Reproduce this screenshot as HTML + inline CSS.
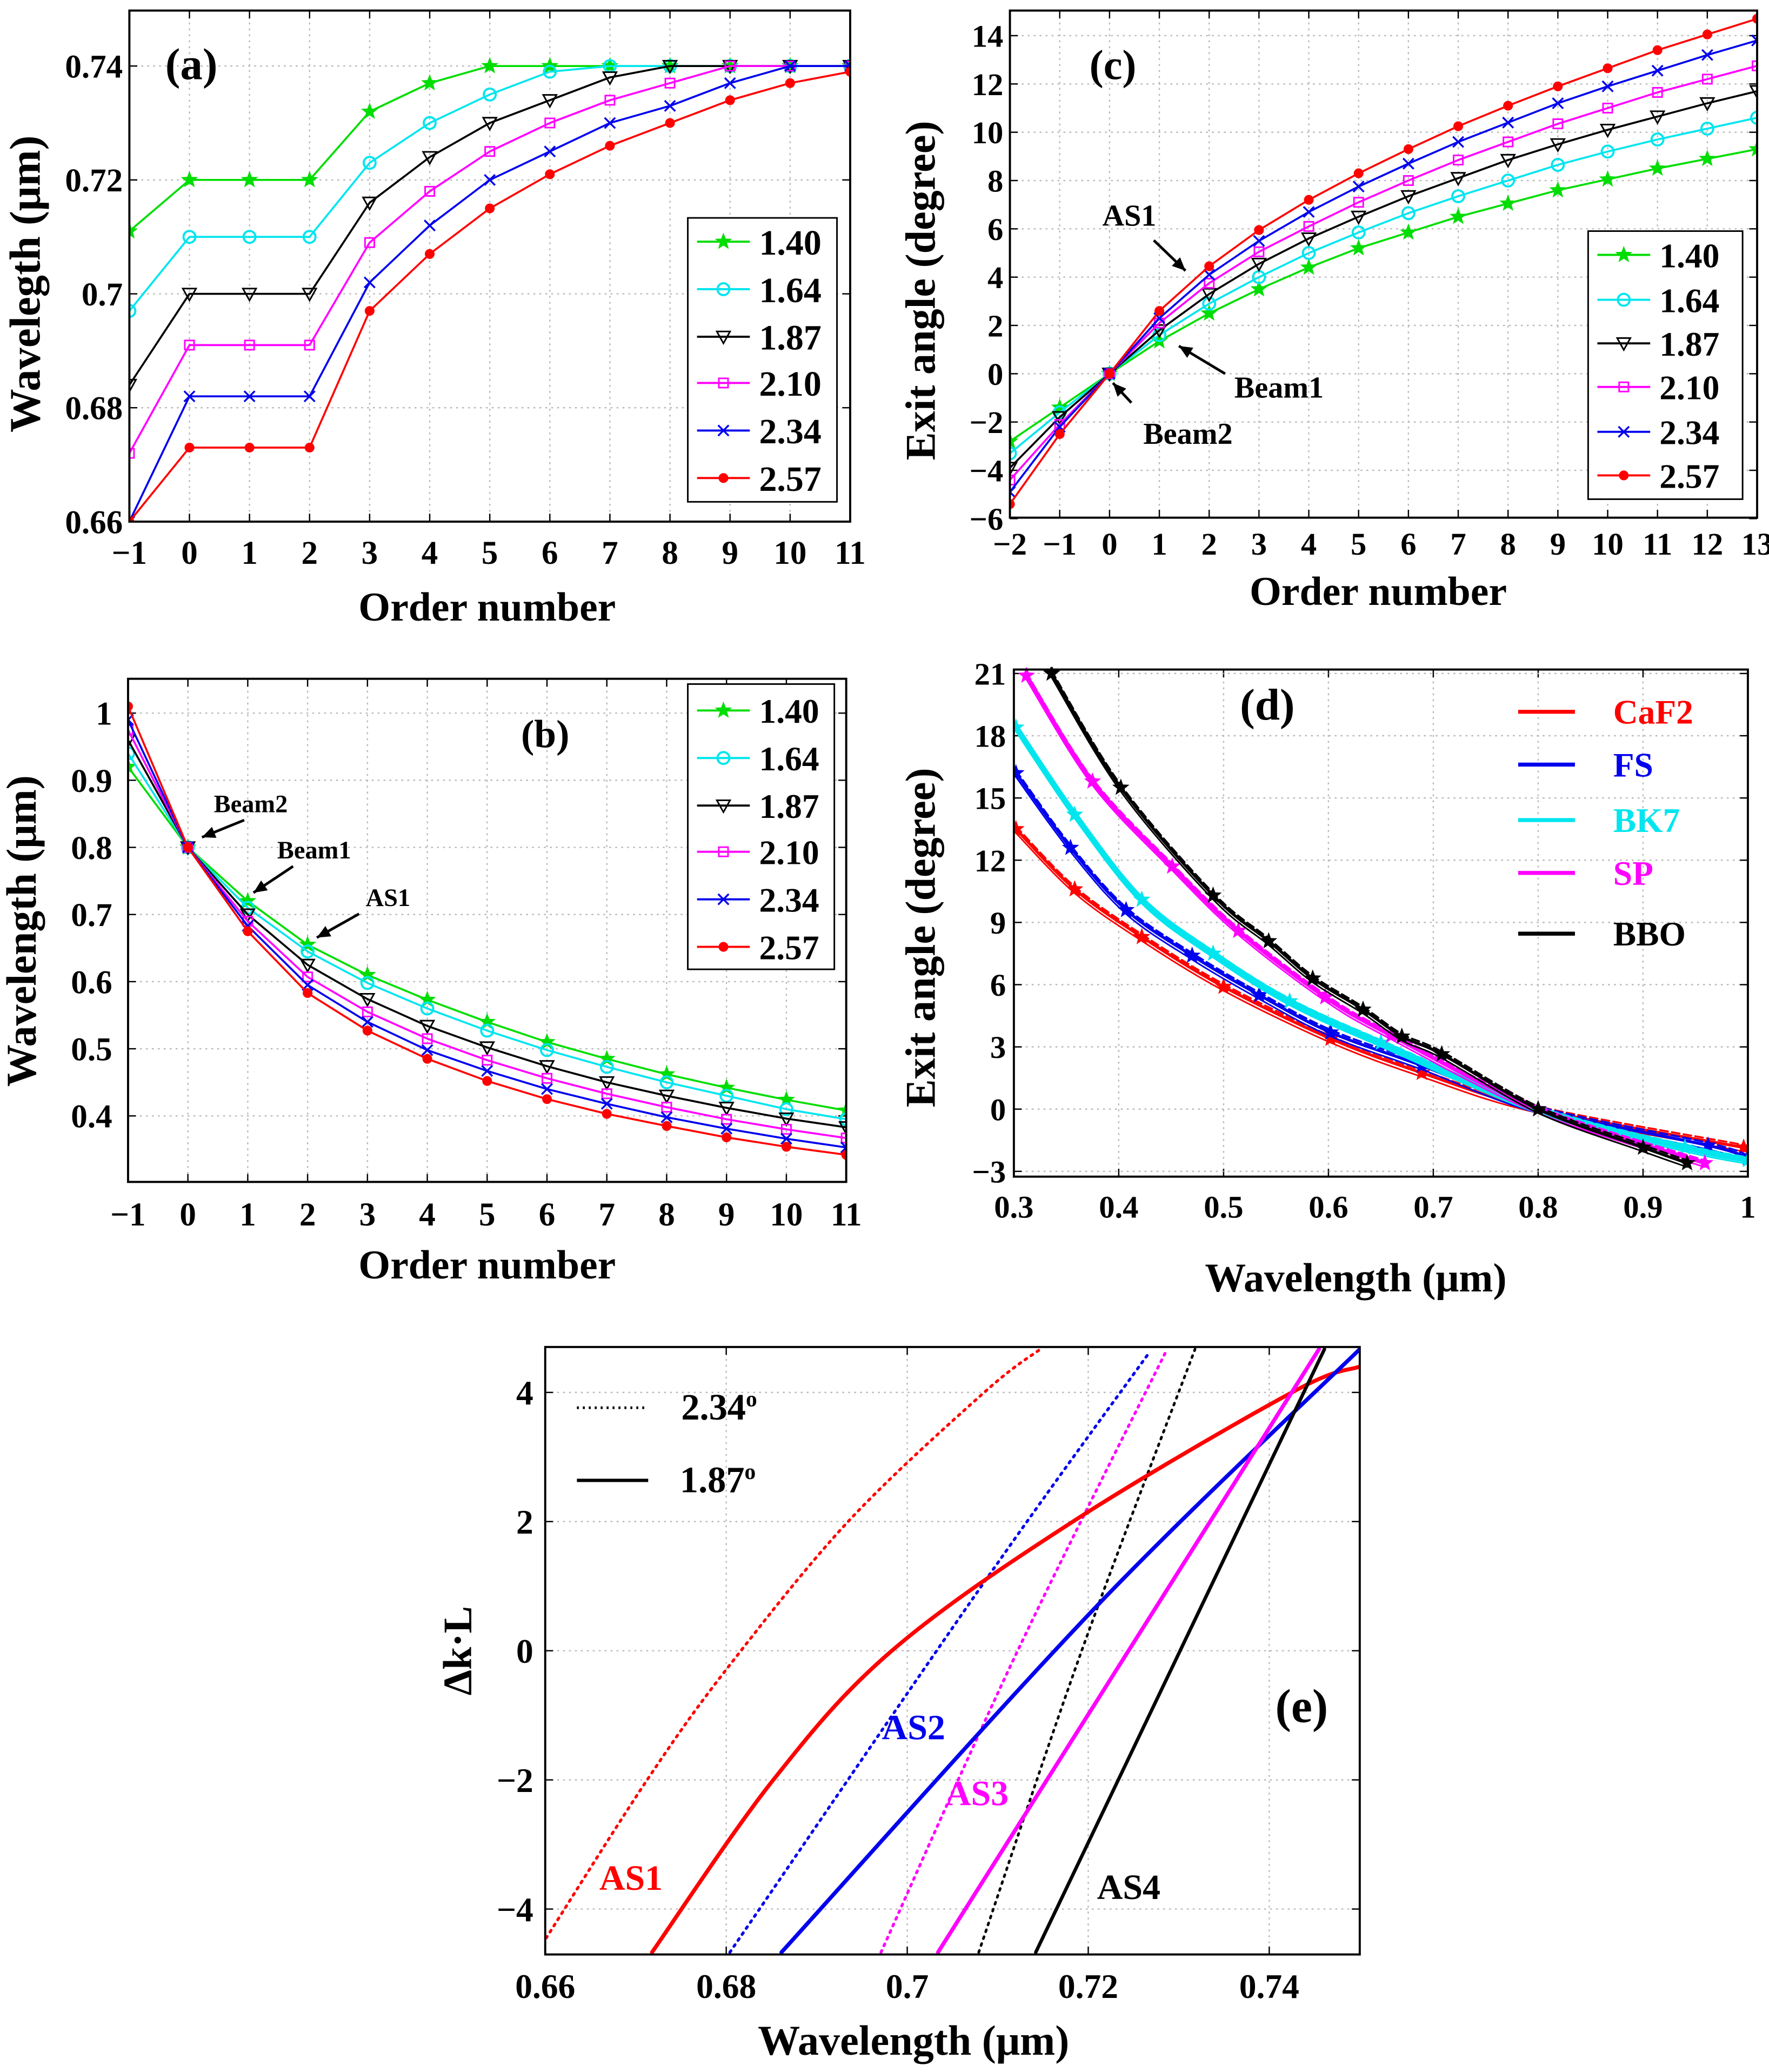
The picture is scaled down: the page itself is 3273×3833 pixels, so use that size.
<!DOCTYPE html>
<html><head><meta charset="utf-8"><style>
html,body{margin:0;padding:0;background:#fff}
svg{display:block}
text{font-family:"Liberation Serif",serif;font-weight:bold;fill:#000}
</style></head><body>
<svg id="fig" xmlns="http://www.w3.org/2000/svg" width="3273" height="3833" viewBox="0 0 1340 1569" preserveAspectRatio="none">
<rect x="0" y="0" width="1340" height="1569" fill="#fff"/>
</svg>
<script>
// ---------- Data ----------
const seriesLabels = ["1.40","1.64","1.87","2.10","2.34","2.57"];
const orderA = [-1,0,1,2,3,4,5,6,7,8,9,10,11];
const a140 = [0.711,0.72,0.72,0.72,0.732,0.737,0.74,0.74,0.74,0.74,0.74,0.74,0.74];
const a164 = [0.697,0.71,0.71,0.71,0.723,0.730,0.735,0.739,0.74,0.74,0.74,0.74,0.74];
const a187 = [0.684,0.70,0.70,0.70,0.716,0.724,0.730,0.734,0.738,0.74,0.74,0.74,0.74];
const a210 = [0.672,0.691,0.691,0.691,0.709,0.718,0.725,0.730,0.734,0.737,0.74,0.74,0.74];
const a234 = [0.66,0.682,0.682,0.682,0.702,0.712,0.720,0.725,0.730,0.733,0.737,0.74,0.74];
const a257 = [0.66,0.673,0.673,0.673,0.697,0.707,0.715,0.721,0.726,0.730,0.734,0.737,0.739];
const aTicksX = [-1,0,1,2,3,4,5,6,7,8,9,10,11];
const aTicksY = [0.66,0.68,0.70,0.72,0.74];
const aTickLabelsY = ["0.66","0.68","0.7","0.72","0.74"];

const orderB = [-1,0,1,2,3,4,5,6,7,8,9,10,11];
const b140 = [0.92,0.80,0.72,0.655,0.61,0.573,0.54,0.51,0.485,0.462,0.442,0.424,0.408];
const b164 = [0.94,0.80,0.71,0.645,0.598,0.56,0.527,0.498,0.473,0.45,0.43,0.41,0.395];
const b187 = [0.96,0.80,0.70,0.625,0.574,0.534,0.502,0.474,0.45,0.43,0.412,0.396,0.383];
const b210 = [0.975,0.80,0.69,0.607,0.555,0.515,0.483,0.456,0.433,0.413,0.395,0.38,0.367];
const b234 = [0.99,0.80,0.683,0.595,0.54,0.498,0.467,0.44,0.418,0.398,0.381,0.366,0.353];
const b257 = [1.01,0.80,0.675,0.583,0.527,0.485,0.452,0.425,0.403,0.385,0.368,0.354,0.342];
const bTicksY = [0.4,0.5,0.6,0.7,0.8,0.9,1.0];
const bTickLabelsY = ["0.4","0.5","0.6","0.7","0.8","0.9","1"];

const orderC = [-2,-1,0,1,2,3,4,5,6,7,8,9,10,11,12,13];
const c140 = [-2.8,-1.4,0,1.35,2.5,3.5,4.4,5.2,5.85,6.5,7.05,7.6,8.05,8.5,8.9,9.3];
const c164 = [-3.3,-1.6,0,1.6,2.9,4.0,5.0,5.85,6.65,7.35,8.0,8.65,9.2,9.7,10.15,10.6];
const c187 = [-3.9,-1.8,0,1.8,3.3,4.55,5.6,6.5,7.35,8.1,8.85,9.5,10.1,10.65,11.2,11.7];
const c210 = [-4.4,-2.1,0,2.1,3.75,5.05,6.1,7.1,8.0,8.85,9.6,10.35,11.0,11.65,12.2,12.75];
const c234 = [-4.9,-2.2,0,2.3,4.1,5.5,6.7,7.75,8.7,9.6,10.4,11.2,11.9,12.55,13.2,13.8];
const c257 = [-5.4,-2.5,0,2.6,4.45,5.95,7.2,8.3,9.3,10.25,11.1,11.9,12.65,13.4,14.05,14.7];
const cTicksX = [-2,-1,0,1,2,3,4,5,6,7,8,9,10,11,12,13];
const cTicksY = [-6,-4,-2,0,2,4,6,8,10,12,14];

const materials = ["CaF2","FS","BK7","SP","BBO"];
const wlCaF2 = [0.302,0.358,0.422,0.5,0.602,0.689,0.8,0.996];
const angCaF2 = [13.5,10.6,8.3,5.9,3.4,1.75,0,-1.85];
const wlFS = [0.302,0.354,0.407,0.47,0.534,0.602,0.689,0.8,0.962,1.0];
const angFS = [16.2,12.6,9.6,7.4,5.5,3.7,2.1,0,-1.75,-2.35];
const wlBK7 = [0.302,0.358,0.422,0.49,0.563,0.65,0.8,0.94,1.0];
const angBK7 = [18.4,14.2,10.1,7.5,5.2,3.2,0,-1.85,-2.45];
const wlSP = [0.312,0.375,0.451,0.514,0.597,0.66,0.8,0.959];
const angSP = [20.9,15.8,11.7,8.6,5.4,3.55,0,-2.6];
const wlBBO = [0.336,0.402,0.49,0.543,0.585,0.633,0.67,0.708,0.8,0.9,0.942];
const angBBO = [21,15.5,10.3,8.1,6.3,4.8,3.5,2.65,0,-1.85,-2.6];
const dTicksX = [0.3,0.4,0.5,0.6,0.7,0.8,0.9,1.0];
const dTickLabelsX = ["0.3","0.4","0.5","0.6","0.7","0.8","0.9","1"];
const dTicksY = [-3,0,3,6,9,12,15,18,21];

const eRedSolidX = [0.6718,0.6852,0.6983,0.7183,0.7425,0.75];
const eRedSolidY = [-4.67,-2.0,0.0,2.0,4.0,4.40];
const eRedDotX = [0.6601,0.6715,0.6804,0.6936,0.7085,0.7147];
const eRedDotY = [-4.45,-1.95,-0.22,2.02,4.0,4.67];
const eBlueSolidX = [0.6861,0.721,0.75];
const eBlueSolidY = [-4.67,0.70,4.67];
const eBlueDotX = [0.6804,0.7085,0.7267];
const eBlueDotY = [-4.67,1.06,4.61];
const eMagSolidX = [0.7034,0.7455];
const eMagSolidY = [-4.67,4.67];
const eMagDotX = [0.6971,0.7121,0.7285];
const eMagDotY = [-4.67,-0.03,4.61];
const eBlkSolidX = [0.7142,0.7461];
const eBlkSolidY = [-4.67,4.67];
const eBlkDotX = [0.7079,0.7192,0.7318];
const eBlkDotY = [-4.67,-0.03,4.67];
const eTicksX = [0.66,0.68,0.70,0.72,0.74];
const eTickLabelsX = ["0.66","0.68","0.7","0.72","0.74"];
const eTicksY = [-4,-2,0,2,4];

// ---------- Helpers ----------
const NS = "http://www.w3.org/2000/svg";
const svg = document.getElementById("fig");
function mk(tag, attrs, parent){
  const e = document.createElementNS(NS, tag);
  for (const k in attrs) e.setAttribute(k, attrs[k]);
  (parent||svg).appendChild(e);
  return e;
}
function txt(s, x, y, size, anchor, fill, parent){
  const t = mk("text", {x:x, y:y, "font-size":size, "text-anchor":anchor||"middle"}, parent);
  if (fill) t.setAttribute("style","fill:"+fill);
  t.textContent = s;
  return t;
}
function lin(d0,d1,p0,p1){ return v => p0 + (v-d0)*(p1-p0)/(d1-d0); }
function minus(v){ return String(v).replace("-","\u2212"); }

function axesBox(g, x0,y0,x1,y1, sx, sy, ticksX, ticksY, labX, labY, fs, xoff, yoff){
  ticksX.forEach(v=>{ const X=sx(v);
    if (X>x0+1 && X<x1-1){ const l=mk("line",{x1:X,y1:y0,x2:X,y2:y1,stroke:"#bbb","stroke-width":1,"stroke-dasharray":"1.5 3"},g);
      
       }
    mk("line",{x1:X,y1:y1,x2:X,y2:y1-6,stroke:"#000","stroke-width":1},g);
    mk("line",{x1:X,y1:y0,x2:X,y2:y0+6,stroke:"#000","stroke-width":1},g);
  });
  ticksY.forEach(v=>{ const Y=sy(v);
    if (Y>y0+1 && Y<y1-1){ const l=mk("line",{x1:x0,y1:Y,x2:x1,y2:Y,stroke:"#bbb","stroke-width":1,"stroke-dasharray":"1.5 3"},g);
      
       }
    mk("line",{x1:x0,y1:Y,x2:x0+6,y2:Y,stroke:"#000","stroke-width":1},g);
    mk("line",{x1:x1,y1:Y,x2:x1-6,y2:Y,stroke:"#000","stroke-width":1},g);
  });
  const xg = mk("g",{},g);
  
  
  ticksX.forEach((v,i)=>{ txt(labX[i], sx(v), y1+xoff, fs, "middle", null, xg); });
  const yg = mk("g",{},g);
  
  
  ticksY.forEach((v,i)=>{ txt(labY[i], x0-yoff, sy(v)+fs*0.35, fs, "end", null, yg); });
}
function frame(g,x0,y0,x1,y1){
  const r = mk("rect",{x:x0,y:y0,width:x1-x0,height:y1-y0,fill:"none",stroke:"#000","stroke-width":1.6},g);
  
  
}
function starPath(cx,cy,r){
  let d=""; for(let i=0;i<10;i++){ const a=-Math.PI/2+i*Math.PI/5; const rr=i%2?r*0.42:r;
    d+=(i?"L":"M")+(cx+rr*Math.cos(a)).toFixed(2)+","+(cy+rr*Math.sin(a)).toFixed(2);} return d+"Z";
}
function marker(g, kind, X, Y, col){
  let m;
  if (kind==="star") m=mk("path",{d:starPath(X,Y,6),fill:col,stroke:col,"stroke-width":0.6},g);
  else if (kind==="circle") m=mk("circle",{cx:X,cy:Y,r:4.5,fill:"none",stroke:col,"stroke-width":1.6},g);
  else if (kind==="tri") m=mk("path",{d:`M${X-5},${Y-4}L${X+5},${Y-4}L${X},${Y+5}Z`,fill:"none",stroke:col,"stroke-width":1.2},g);
  else if (kind==="square") m=mk("rect",{x:X-3.5,y:Y-3.5,width:7,height:7,fill:"none",stroke:col,"stroke-width":1.2},g);
  else if (kind==="x") m=mk("path",{d:`M${X-4},${Y-4}L${X+4},${Y+4}M${X-4},${Y+4}L${X+4},${Y-4}`,stroke:col,"stroke-width":1.4},g);
  else m=mk("circle",{cx:X,cy:Y,r:3.2,fill:col,stroke:col},g);
  
  
}
function series(g, xs, ys, sx, sy, col, kind, w, dash){
  const pts = xs.map((x,i)=>sx(x).toFixed(2)+","+sy(ys[i]).toFixed(2)).join(" ");
  const p = mk("polyline",{points:pts,fill:"none",stroke:col,"stroke-width":w||1.5,"stroke-linejoin":"round"},g);
  if (dash) p.setAttribute("stroke-dasharray",dash);
  
  
  if (kind) xs.forEach((x,i)=>marker(g,kind,sx(x),sy(ys[i]),col));
  return p;
}
function smoothSeries(g, xs, ys, sx, sy, col, w, dash){
  const P = xs.map((x,i)=>[sx(x),sy(ys[i])]);
  let d = "M"+P[0][0]+","+P[0][1];
  for (let i=0;i<P.length-1;i++){
    const p0=P[Math.max(0,i-1)], p1=P[i], p2=P[i+1], p3=P[Math.min(P.length-1,i+2)];
    const c1=[p1[0]+(p2[0]-p0[0])/6, p1[1]+(p2[1]-p0[1])/6];
    const c2=[p2[0]-(p3[0]-p1[0])/6, p2[1]-(p3[1]-p1[1])/6];
    d+=`C${c1[0].toFixed(2)},${c1[1].toFixed(2)} ${c2[0].toFixed(2)},${c2[1].toFixed(2)} ${p2[0].toFixed(2)},${p2[1].toFixed(2)}`;
  }
  const p = mk("path",{d:d,fill:"none",stroke:col,"stroke-width":w||2,"stroke-linecap":"round"},g);
  if (dash) p.setAttribute("stroke-dasharray",dash);
  
  
  return p;
}
function legend(g, bx0,by0,bx1,by1, ys, lx0,lx1,tx, cols, kinds, labels, fs){
  const r=mk("rect",{x:bx0,y:by0,width:bx1-bx0,height:by1-by0,fill:"#fff",stroke:"#000","stroke-width":1.2},g);
  
  
  labels.forEach((lab,i)=>{
    const e=mk("g",{},g);
    
    
    mk("line",{x1:lx0,y1:ys[i],x2:lx1,y2:ys[i],stroke:cols[i],"stroke-width":1.6},e);
    marker(e,kinds[i],(lx0+lx1)/2,ys[i],cols[i]);
    txt(lab,tx,ys[i]+fs*0.36,fs,"start",null,e);
  });
}
function arrow(g,x1,y1,x2,y2){
  const a=mk("g",{},g);
  
  
  mk("line",{x1:x1,y1:y1,x2:x2,y2:y2,stroke:"#000","stroke-width":2},a);
  const ang=Math.atan2(y2-y1,x2-x1), L=10, W=4.5;
  const bx=x2-L*Math.cos(ang), by=y2-L*Math.sin(ang);
  mk("path",{d:`M${x2},${y2}L${bx-W*Math.sin(ang)},${by+W*Math.cos(ang)}L${bx+W*Math.sin(ang)},${by-W*Math.cos(ang)}Z`,fill:"#000"},a);
}
function vtitle(g,s,x,y,fs){
  const t=txt(s,0,0,fs,"middle",null,g);
  t.setAttribute("transform",`translate(${x},${y}) rotate(-90)`);
  return t;
}

const cols6 = ["#00dd00","#00e5ee","#000000","#ff00ff","#0000ee","#ff0000"];
const kinds6 = ["star","circle","tri","square","x","dot"];

// ---------- Panel (a) ----------
{
  const g=mk("g",{});  
  const x0=98,x1=644,y0=8,y1=395;
  const sx=lin(-1,11,x0,x1), sy=lin(0.66,0.74,395,50);
  axesBox(g,x0,y0,x1,y1,sx,sy,aTicksX,aTicksY,aTicksX.map(minus),aTickLabelsY,25,32,5);
  const cl=mk("clipPath",{id:"ca"},g); mk("rect",{x:x0,y:y0,width:x1-x0,height:y1-y0},cl);
  const pg=mk("g",{"clip-path":"url(#ca)"},g);
  [a140,a164,a187,a210,a234,a257].forEach((ys,i)=>series(pg,orderA,ys,sx,sy,cols6[i],kinds6[i],1.5));
  frame(g,x0,y0,x1,y1);
  legend(g,521,165,634,380,[183,219,255,290,326,362],528,568,575,cols6,kinds6,seriesLabels,27);
  const pl=txt("(a)",145,60,34,"middle",null,g);  
  const xt=txt("Order number",369,470,31,"middle",null,g);  
  const yt=vtitle(g,"Wavelegth (\u03bcm)",30,215,33);  
}
// ---------- Panel (b) ----------
{
  const g=mk("g",{});  
  const x0=97,x1=641,y0=514,y1=895;
  const sx=lin(-1,11,x0,x1), sy=lin(0.4,1.0,845,540);
  axesBox(g,x0,y0,x1,y1,sx,sy,aTicksX,bTicksY,aTicksX.map(minus),bTickLabelsY,25,33,12);
  const cl=mk("clipPath",{id:"cb"},g); mk("rect",{x:x0,y:y0,width:x1-x0,height:y1-y0},cl);
  const pg=mk("g",{"clip-path":"url(#cb)"},g);
  [b140,b164,b187,b210,b234,b257].forEach((ys,i)=>series(pg,orderB,ys,sx,sy,cols6[i],kinds6[i],1.5));
  frame(g,x0,y0,x1,y1);
  legend(g,521,518,632,734,[538,574,610,645,681,717],528,568,575,cols6,kinds6,seriesLabels,26);
  const pl=txt("(b)",413,566,30,"middle",null,g);  
  txt("Beam2",162,615,19,"start",null,g); arrow(g,185,621,153,634);
  txt("Beam1",210,650,19,"start",null,g); arrow(g,222,656,192,676);
  txt("AS1",277,686,19,"start",null,g); arrow(g,272,692,240,710);
  const xt=txt("Order number",369,968,31,"middle",null,g);  
  const yt=vtitle(g,"Wavelength (\u03bcm)",27,705,32);  
}
// ---------- Panel (c) ----------
{
  const g=mk("g",{});  
  const x0=765,x1=1331,y0=8,y1=392;
  const sx=lin(-2,13,x0,x1), sy=lin(0,14,283,27);
  axesBox(g,x0,y0,x1,y1,sx,sy,cTicksX,cTicksY,cTicksX.map(minus),cTicksY.map(minus),24,28,5);
  const cl=mk("clipPath",{id:"cc"},g); mk("rect",{x:x0,y:y0,width:x1-x0,height:y1-y0},cl);
  const pg=mk("g",{"clip-path":"url(#cc)"},g);
  [c140,c164,c187,c210,c234,c257].forEach((ys,i)=>series(pg,orderC,ys,sx,sy,cols6[i],kinds6[i],1.5));
  frame(g,x0,y0,x1,y1);
  legend(g,1203,175,1320,378,[193,227,260,293,327,360],1210,1250,1257,cols6,kinds6,seriesLabels,26);
  const pl=txt("(c)",843,60,32,"middle",null,g);  
  txt("AS1",835,171,23,"start",null,g); arrow(g,874,182,898,205);
  txt("Beam1",935,301,23,"start",null,g); arrow(g,928,283,893,262);
  txt("Beam2",866,336,23,"start",null,g); arrow(g,857,305,843,290);
  const xt=txt("Order number",1044,458,31,"middle",null,g);  
  const yt=vtitle(g,"Exit angle (degree)",708,220,32);  
}
// ---------- Panel (d) ----------
{
  const g=mk("g",{});  
  const x0=768,x1=1324,y0=507,y1=891;
  const sx=lin(0.3,1.0,x0,x1), sy=lin(-3,21,887,510);
  axesBox(g,x0,y0,x1,y1,sx,sy,dTicksX,dTicksY,dTickLabelsX,dTicksY.map(minus),24,31,6);
  const cl=mk("clipPath",{id:"cd"},g); mk("rect",{x:x0,y:y0-2,width:x1-x0,height:y1-y0+4},cl);
  const pg=mk("g",{"clip-path":"url(#cd)"},g);
  const dcols=["#ff0000","#0000ee","#00e5ee","#ff00ff","#000000"];
  const wls=[wlCaF2,wlFS,wlBK7,wlSP,wlBBO], angs=[angCaF2,angFS,angBK7,angSP,angBBO];
  const widths=[2.2,2.2,4.5,3,2.2];
  wls.forEach((xs,i)=>{
    const ys=angs[i];
    smoothSeries(pg,xs,ys,sx,sy,dcols[i],widths[i]);
    const sg=mk("g",{transform:`translate(0,${-2})`},pg);
    smoothSeries(sg,xs,ys,sx,sy,dcols[i],1.4,"6 3");
    const sg2=mk("g",{transform:`translate(0,${3})`},pg);
    smoothSeries(sg2,xs,ys,sx,sy,dcols[i],1.2);
    xs.forEach((x,k)=>marker(pg,"star",sx(x),sy(ys[k]),dcols[i]));
  });
  frame(g,x0,y0,x1,y1);
  const ly=[539,579,621,661,707];
  materials.forEach((m,i)=>{
    const e=mk("g",{},g);
    
    
    mk("line",{x1:1150,y1:ly[i],x2:1193,y2:ly[i],stroke:dcols[i],"stroke-width":3},e);
    txt(m,1222,ly[i]+9,26,"start",dcols[i],e);
  });
  const pl=txt("(d)",960,545,34,"middle",null,g);  
  const xt=txt("Wavelength (\u03bcm)",1027,978,31,"middle",null,g);  
  const yt=vtitle(g,"Exit angle (degree)",708,710,32);  
}
// ---------- Panel (e) ----------
{
  const g=mk("g",{});  
  const x0=413,x1=1030,y0=1020,y1=1480;
  const sx=lin(0.66,0.75,x0,x1), sy=lin(0,4,1250,1054.4);
  axesBox(g,x0,y0,x1,y1,sx,sy,eTicksX,eTicksY,eTickLabelsX,eTicksY.map(minus),26,33,9);
  const cl=mk("clipPath",{id:"ce"},g); mk("rect",{x:x0,y:y0,width:x1-x0,height:y1-y0},cl);
  const pg=mk("g",{"clip-path":"url(#ce)"},g);
  smoothSeries(pg,eRedDotX,eRedDotY,sx,sy,"#ff0000",2.2,"1.5 4");
  smoothSeries(pg,eBlueDotX,eBlueDotY,sx,sy,"#0000ee",2.2,"1.5 4");
  smoothSeries(pg,eMagDotX,eMagDotY,sx,sy,"#ff00ff",2.2,"1.5 4");
  smoothSeries(pg,eBlkDotX,eBlkDotY,sx,sy,"#000000",2,"1.5 4");
  smoothSeries(pg,eRedSolidX,eRedSolidY,sx,sy,"#ff0000",3);
  smoothSeries(pg,eBlueSolidX,eBlueSolidY,sx,sy,"#0000ee",3);
  smoothSeries(pg,eMagSolidX,eMagSolidY,sx,sy,"#ff00ff",3);
  smoothSeries(pg,eBlkSolidX,eBlkSolidY,sx,sy,"#000000",2.6);
  frame(g,x0,y0,x1,y1);
  const l1=mk("g",{},g);  
  mk("line",{x1:437,y1:1066,x2:491,y2:1066,stroke:"#000","stroke-width":2,"stroke-dasharray":"1.5 3"},l1);
  const t1=txt("2.34",516,1075,28,"start",null,l1);
  const s1=mk("tspan",{dy:-10,"font-size":17},t1); s1.textContent="o";
  const l2=mk("g",{},g);  
  mk("line",{x1:437,y1:1121,x2:491,y2:1121,stroke:"#000","stroke-width":2.5},l2);
  const t2=txt("1.87",515,1130,28,"start",null,l2);
  const s2=mk("tspan",{dy:-10,"font-size":17},t2); s2.textContent="o";
  txt("AS1",454,1431,27,"start","#ff0000",g);
  txt("AS2",668,1317,27,"start","#0000ee",g);
  txt("AS3",716,1367,27,"start","#ff00ff",g);
  txt("AS4",831,1438,27,"start",null,g);
  const pl=txt("(e)",986,1304,36,"middle",null,g);  
  const xt=txt("Wavelength (\u03bcm)",692,1556,32,"middle",null,g);  
  const yt=vtitle(g,"\u0394k\u00b7L",357,1250,31);  
}
</script>
</body></html>
